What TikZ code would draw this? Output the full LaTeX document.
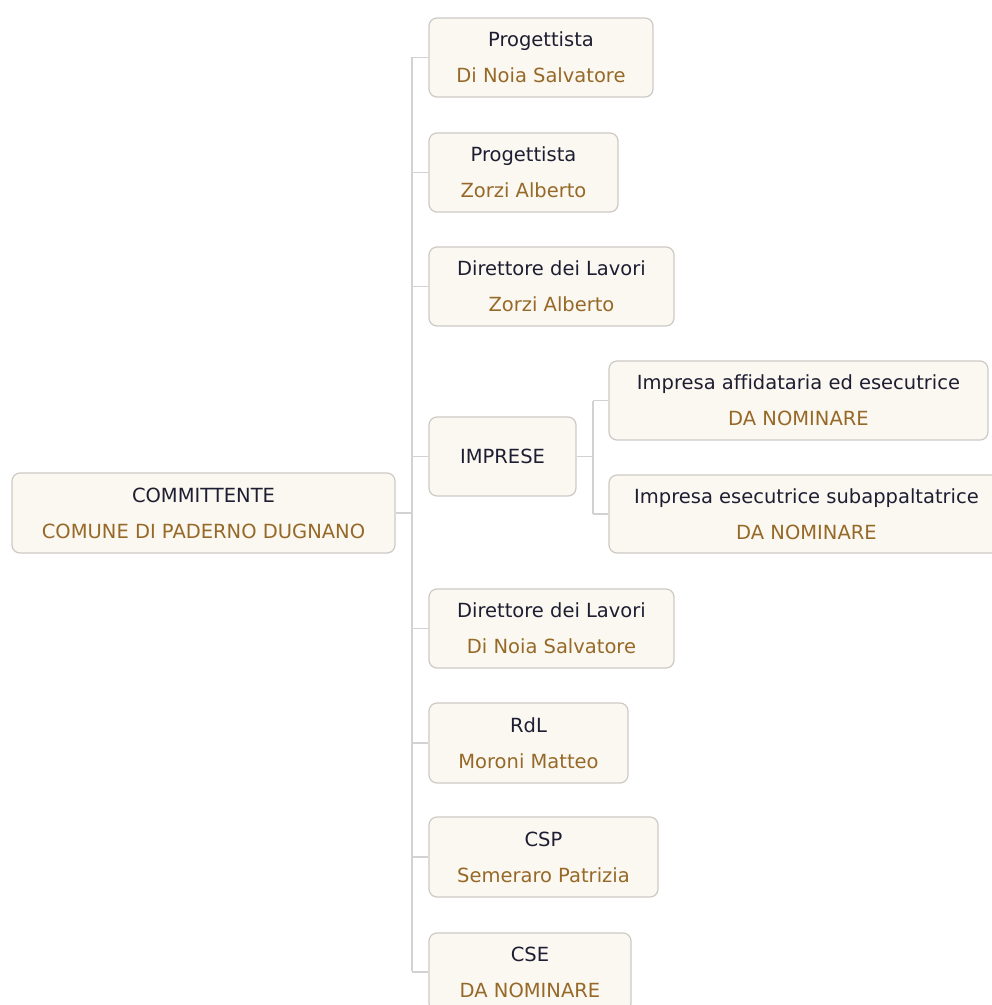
\documentclass[tikz,border=0pt]{standalone}
\usepackage{fontspec}
\setmainfont{DejaVu Sans}[Ligatures=NoCommon]
\definecolor{boxfill}{RGB}{251,248,241}
\definecolor{boxline}{RGB}{205,201,197}
\definecolor{conn}{RGB}{210,210,210}
\definecolor{titlec}{RGB}{30,30,50}
\definecolor{subc}{RGB}{150,105,40}
\tikzset{
  orgbox/.style={draw=boxline, fill=boxfill, line width=1.2pt, rounded corners=8pt, inner sep=0pt},
  titletxt/.style={anchor=base, inner sep=0pt, text=titlec, font=\fontsize{19.5}{23}\selectfont},
  subtxt/.style={anchor=base, inner sep=0pt, text=subc, font=\fontsize{19.5}{23}\selectfont},
  connline/.style={draw=conn, line width=1.6pt}
}
\newcommand{\orgnode}[7]{%
  % #1 name, #2 left, #3 top, #4 right, #5 bottom, #6 title, #7 subtitle
  \node[orgbox, minimum width={#4-#2}, minimum height={#5-#3}] (#1) at ({(#2+#4)/2},{(#3+#5)/2}) {};
  \node[titletxt] (#1-t) at ([yshift=11pt]#1.center) {#6};
  \node[subtxt] (#1-s) at ([yshift=-25pt]#1.center) {#7};
}
\begin{document}
\begin{tikzpicture}[x=1pt,y=-1pt]
\useasboundingbox (0,0) rectangle (992,1005);
\fill[white] (0,0) rectangle (992,1005);

% trunk coordinates
\coordinate (tt) at (412,57);
\coordinate (tb) at (412,971);
\coordinate (st) at (593,400.5);
\coordinate (sb) at (593,514);

\draw[connline] (tt) -- (tb);
\draw[connline] (st) -- (sb);

\orgnode{c}{12}{473}{395}{553}{COMMITTENTE}{COMUNE DI PADERNO DUGNANO}
\orgnode{p1}{429}{18}{653}{97}{Progettista}{Di Noia Salvatore}
\orgnode{p2}{429}{133}{618}{212}{Progettista}{Zorzi Alberto}
\orgnode{dl1}{429}{247}{674}{326}{Direttore dei Lavori}{Zorzi Alberto}
\node[orgbox, minimum width=147pt, minimum height=79pt] (imp) at (502.5,456.5) {};
\node[titletxt] (imp-t) at ([yshift=-7pt]imp.center) {IMPRESE};
\orgnode{ia}{609}{361}{988}{440}{Impresa affidataria ed esecutrice}{DA NOMINARE}
\orgnode{ie}{609}{475}{1004}{553}{Impresa esecutrice subappaltatrice}{DA NOMINARE}
\orgnode{dl2}{429}{589}{674}{668}{Direttore dei Lavori}{Di Noia Salvatore}
\orgnode{rdl}{429}{703}{628}{783}{RdL}{Moroni Matteo}
\orgnode{csp}{429}{817}{658}{897}{CSP}{Semeraro Patrizia}
\orgnode{cse}{429}{933}{631}{1011}{CSE}{DA NOMINARE}

% connectors
\draw[connline] (c.east) -- (c.east -| tt);
\foreach \n in {p1,p2,dl1,imp,dl2,rdl,csp,cse}{
  \draw[connline] (\n.west) -- (\n.west -| tt);
}
\draw[connline] (imp.east) -- (imp.east -| st);
\draw[connline] (ia.west) -- (ia.west -| st);
\draw[connline] (ie.west) -- (ie.west -| st);
\end{tikzpicture}
\end{document}
